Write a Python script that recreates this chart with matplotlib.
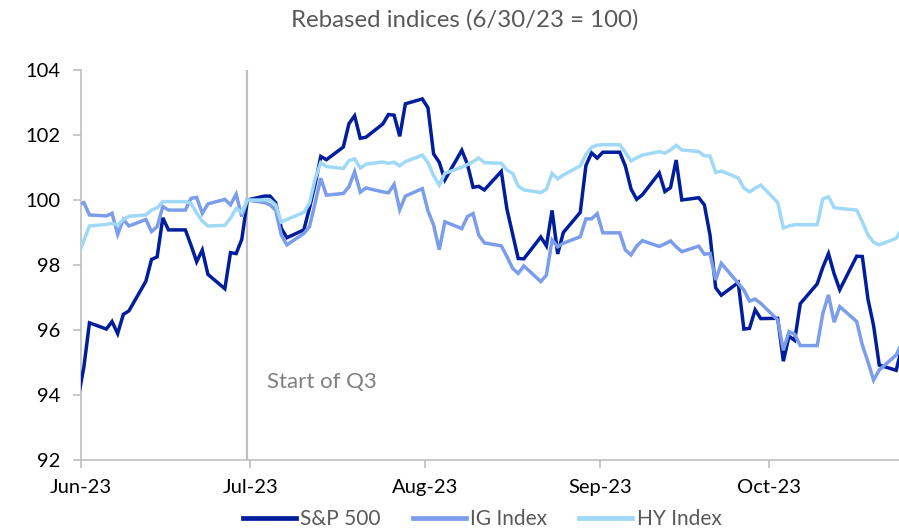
import matplotlib
matplotlib.use("Agg")
import matplotlib.pyplot as plt
import matplotlib.dates as mdates
import pandas as pd
import numpy as np

plt.rcParams['font.family'] = ['Lato', 'DejaVu Sans']

# Business days May 31 - Oct 24, 2023 (holidays carried forward)
dates = pd.bdate_range('2023-05-31', '2023-10-24')

sp500 = [93.92,
    94.85, 96.22, 96.03, 96.26, 95.89, 96.48, 96.59, 97.50, 98.17, 98.25, 99.45, 99.08,
    99.08, 98.61, 98.10, 98.46, 97.71, 97.27, 98.38, 98.35, 98.79, 100.00,
    100.12, 100.12, 99.92, 99.13, 98.84, 99.08, 99.75, 100.49, 101.34, 101.24,
    101.63, 102.35, 102.59, 101.90, 101.93, 102.34, 102.63, 102.61, 101.96, 102.96, 103.11,
    102.84, 101.42, 101.16, 100.62, 101.53, 101.10, 100.39, 100.42, 100.31, 100.88,
    99.72, 98.96, 98.20, 98.19, 98.86, 98.59, 99.68, 98.34, 99.00, 99.62, 101.06, 101.45, 101.29,
    101.47, 101.47, 101.04, 100.34, 100.02, 100.16, 100.83, 100.26, 100.38, 101.23, 100.00,
    100.07, 99.85, 98.92, 97.30, 97.07, 97.46, 96.03, 96.05, 96.62, 96.35,
    96.36, 95.04, 95.81, 95.68, 96.81, 97.42, 97.93, 98.35, 97.73, 97.24,
    98.27, 98.26, 96.95, 96.13, 94.92, 94.76, 95.45]

ig_index = [99.85,
    99.92, 99.54, 99.51, 99.59, 98.94, 99.40, 99.20, 99.40, 99.03, 99.18, 99.80, 99.69,
    99.69, 100.05, 100.08, 99.59, 99.88, 100.02, 99.85, 100.18, 99.49, 100.00,
    99.92, 99.85, 99.69, 98.92, 98.62, 98.97, 99.18, 99.90, 100.67, 100.15,
    100.20, 100.41, 100.87, 100.24, 100.37, 100.25, 100.22, 100.48, 99.70, 100.12, 100.35,
    99.67, 99.23, 98.47, 99.33, 99.12, 99.49, 99.58, 98.92, 98.68, 98.59,
    98.26, 97.90, 97.74, 97.97, 97.49, 97.69, 98.77, 98.56, 98.67, 98.87, 99.42, 99.42, 99.58,
    98.99, 98.99, 98.46, 98.31, 98.58, 98.75, 98.57, 98.65, 98.74, 98.56, 98.41,
    98.58, 98.33, 98.36, 97.54, 98.05, 97.44, 97.23, 96.89, 96.95, 96.82,
    96.31, 95.38, 95.95, 95.87, 95.52, 95.52, 96.51, 97.08, 96.24, 96.72,
    96.26, 95.54, 95.02, 94.46, 94.77, 95.23, 95.60]

hy_index = [98.30,
    98.75, 99.20, 99.25, 99.28, 99.23, 99.40, 99.50, 99.54, 99.69, 99.76, 99.95, 99.95,
    99.95, 99.90, 99.60, 99.35, 99.20, 99.22, 99.44, 99.74, 99.62, 100.00,
    100.00, 100.00, 99.85, 99.32, 99.40, 99.62, 99.90, 100.65, 101.15, 101.03,
    100.97, 101.21, 101.27, 100.98, 101.10, 101.17, 101.13, 101.16, 101.05, 101.18, 101.38,
    101.15, 100.75, 100.46, 100.82, 101.01, 101.09, 101.18, 101.29, 101.15, 101.13,
    100.92, 100.82, 100.43, 100.31, 100.23, 100.33, 100.82, 100.65, 100.77, 101.05, 101.40, 101.62, 101.69,
    101.70, 101.70, 101.46, 101.20, 101.30, 101.38, 101.49, 101.44, 101.54, 101.68, 101.54,
    101.49, 101.36, 101.35, 100.85, 100.89, 100.68, 100.37, 100.25, 100.36, 100.46,
    99.92, 99.14, 99.20, 99.24, 99.24, 99.24, 100.03, 100.10, 99.77, 99.74,
    99.69, 99.33, 98.92, 98.70, 98.62, 98.82, 99.10]

series_names = ['S&P 500', 'IG Index', 'HY Index']
series_colors = ['#001E9C', '#7B9DEA', '#A0D9F7']
tick_months = ['2023-06-01', '2023-07-01', '2023-08-01', '2023-09-01', '2023-10-01']

fig = plt.figure(figsize=(8.99, 5.31), dpi=100)
ax = fig.add_axes([81/899, 1-460/531, 1-81/899, (460-70)/531])

x = mdates.date2num(dates) + 0.5  # points centred within each day
x0 = mdates.date2num(pd.Timestamp('2023-06-01'))

for vals, name, col in zip([sp500, ig_index, hy_index], series_names, series_colors):
    ax.plot(x, vals, color=col, lw=2.5, label=name, solid_joinstyle='miter', zorder=3)

# Start of Q3 marker
ax.axvline(mdates.date2num(pd.Timestamp('2023-06-30')) + 0.5, color='#BFBFBF', lw=1.6, zorder=1)
ax.text(x0 + 33.0, 94.4, 'Start of Q3', color='#7F7F7F', fontsize=16, va='center', ha='left')

ax.set_xlim(x0, x0 + 145)
ax.set_ylim(92, 104)
ax.set_yticks(np.arange(92, 105, 2))
ax.set_xticks([mdates.date2num(pd.Timestamp(t)) for t in tick_months])
ax.xaxis.set_major_formatter(mdates.DateFormatter('%b-%y'))

for s in ['top', 'right']:
    ax.spines[s].set_visible(False)
for s in ['left', 'bottom']:
    ax.spines[s].set_color('#BFBFBF')
    ax.spines[s].set_linewidth(1.2)
ax.tick_params(axis='both', direction='out', length=6, width=1.2, color='#BFBFBF',
               labelsize=14.5, labelcolor='black')
ax.tick_params(axis='x', pad=8)
ax.tick_params(axis='y', pad=9)

fig.text(0.517, 1-20/531, 'Rebased indices (6/30/23 = 100)', ha='center', va='center',
         fontsize=17.3, color='#595959')

leg = fig.legend(loc='center', bbox_to_anchor=(482/899, 1-519/531), ncol=3, frameon=False,
                 fontsize=15, handlelength=2.55, handletextpad=0.2, columnspacing=1.55,
                 labelcolor='#595959')
for line in leg.get_lines():
    line.set_linewidth(3.4)

fig.savefig('out.png', dpi=100)
